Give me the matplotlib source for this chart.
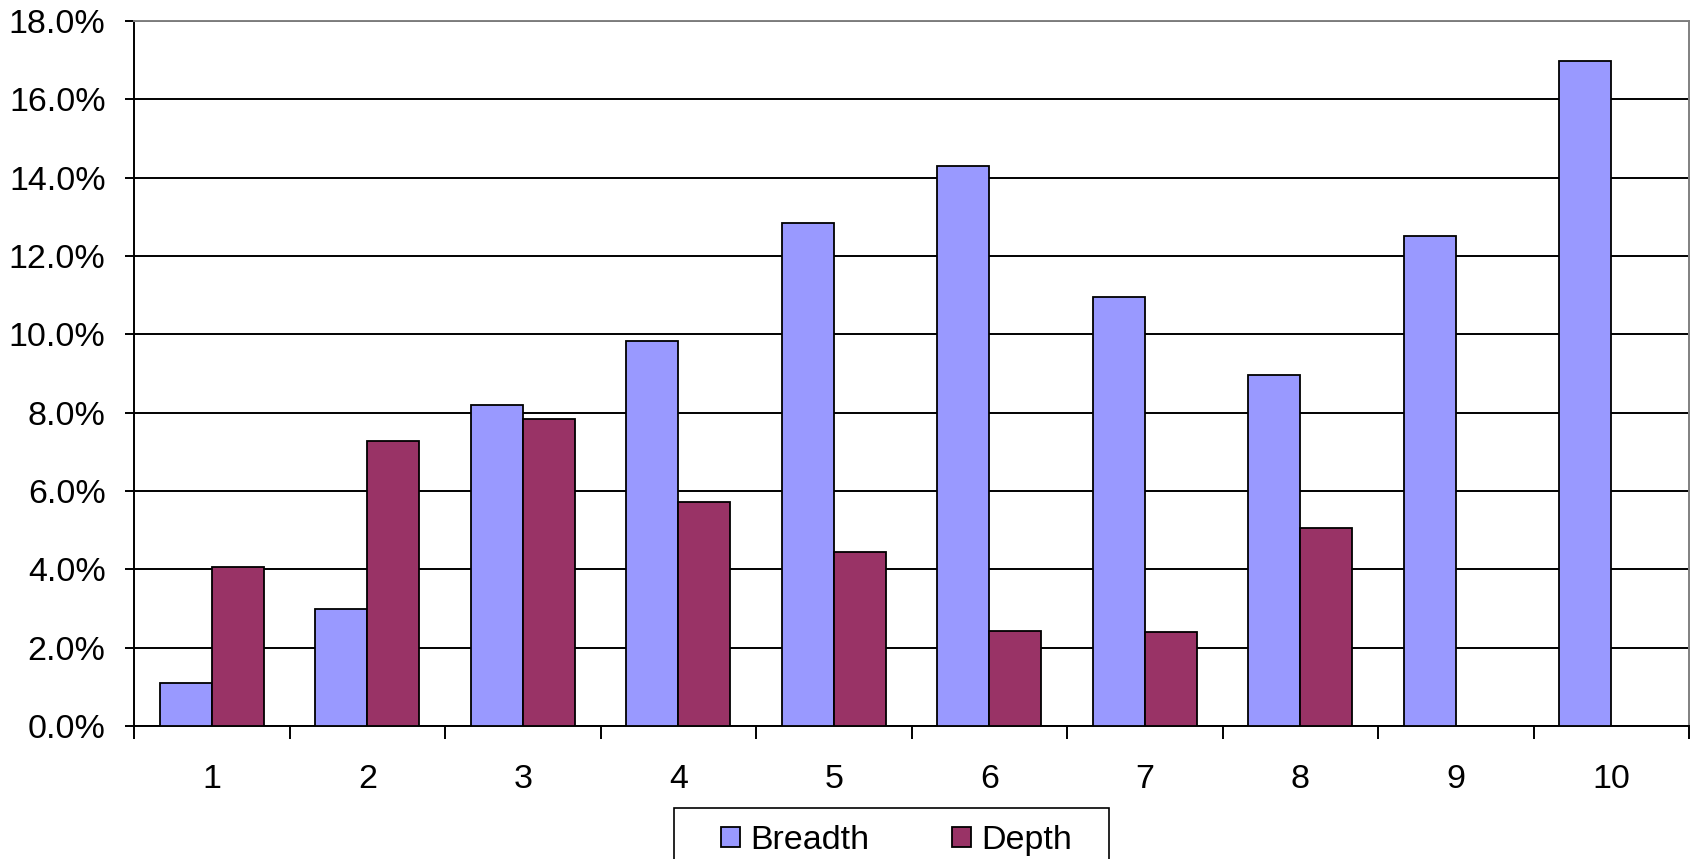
import matplotlib
matplotlib.use("Agg")
import matplotlib.pyplot as plt
import numpy as np
from matplotlib.patches import Rectangle
from matplotlib.ticker import FuncFormatter

categories = ["1", "2", "3", "4", "5", "6", "7", "8", "9", "10"]
breadth = [1.10, 3.00, 8.20, 9.83, 12.85, 14.31, 10.95, 8.95, 12.50, 16.98]
depth = [4.07, 7.27, 7.84, 5.73, 4.43, 2.42, 2.39, 5.06, 0.0, 0.0]
series_names = ["Breadth", "Depth"]
colors = ["#9999FF", "#993366"]

plt.rcParams['font.family'] = ['Liberation Sans', 'DejaVu Sans']
FS = 24.5
W, H = 1692, 859

fig = plt.figure(figsize=(W/100, H/100), dpi=100)
ax = fig.add_axes([134/W, 1-726/H, (1689-134)/W, (726-21)/H])

x = np.arange(1, len(categories) + 1)
w = 1/3
ax.bar(x - w/2, breadth, width=w, color=colors[0], edgecolor="black", linewidth=1.3, zorder=3)
ax.bar(x + w/2, depth, width=w, color=colors[1], edgecolor="black", linewidth=1.3, zorder=3)

ax.set_xlim(0.5, 10.5)
ax.set_ylim(0, 18)
ax.set_yticks(np.arange(0, 18.1, 2))
ax.yaxis.set_major_formatter(FuncFormatter(lambda v, p: f"{v:.1f}%"))
ax.grid(axis="y", color="black", linewidth=1.4, zorder=0)
ax.set_axisbelow(True)

ax.set_xticks(np.arange(0.5, 10.6, 1))
ax.set_xticklabels([])
ax.set_xticks(x, minor=True)
ax.set_xticklabels(categories, minor=True)
ax.tick_params(axis="x", which="major", length=9, width=1.4, color="black", direction="out")
ax.tick_params(axis="x", which="minor", length=0, pad=27, labelsize=FS)
ax.tick_params(axis="y", length=6.5, width=1.4, pad=14, labelsize=FS)

for s in ["top", "right"]:
    ax.spines[s].set_color("#808080")
    ax.spines[s].set_linewidth(1.4)
for s in ["left", "bottom"]:
    ax.spines[s].set_color("black")
    ax.spines[s].set_linewidth(1.4)

# legend box (extends below the figure edge, as in the reference)
fig.patches.append(Rectangle((674/W, 1-880/H), (1109-674)/W, (880-808)/H, transform=fig.transFigure,
                             facecolor="white", edgecolor="black", linewidth=1.2, zorder=1))
handles = [Rectangle((0, 0), 1, 1, facecolor=c, edgecolor="black", linewidth=1.3) for c in colors]
leg = fig.legend(handles, series_names, loc="upper left", bbox_to_anchor=(721/W, 1-825/H),
                 ncol=2, fontsize=FS, frameon=False, handlelength=0.55, handleheight=0.55,
                 handletextpad=0.3, columnspacing=2.45, borderpad=0, borderaxespad=0)
leg.set_zorder(2)

fig.savefig("out.png", dpi=100)
